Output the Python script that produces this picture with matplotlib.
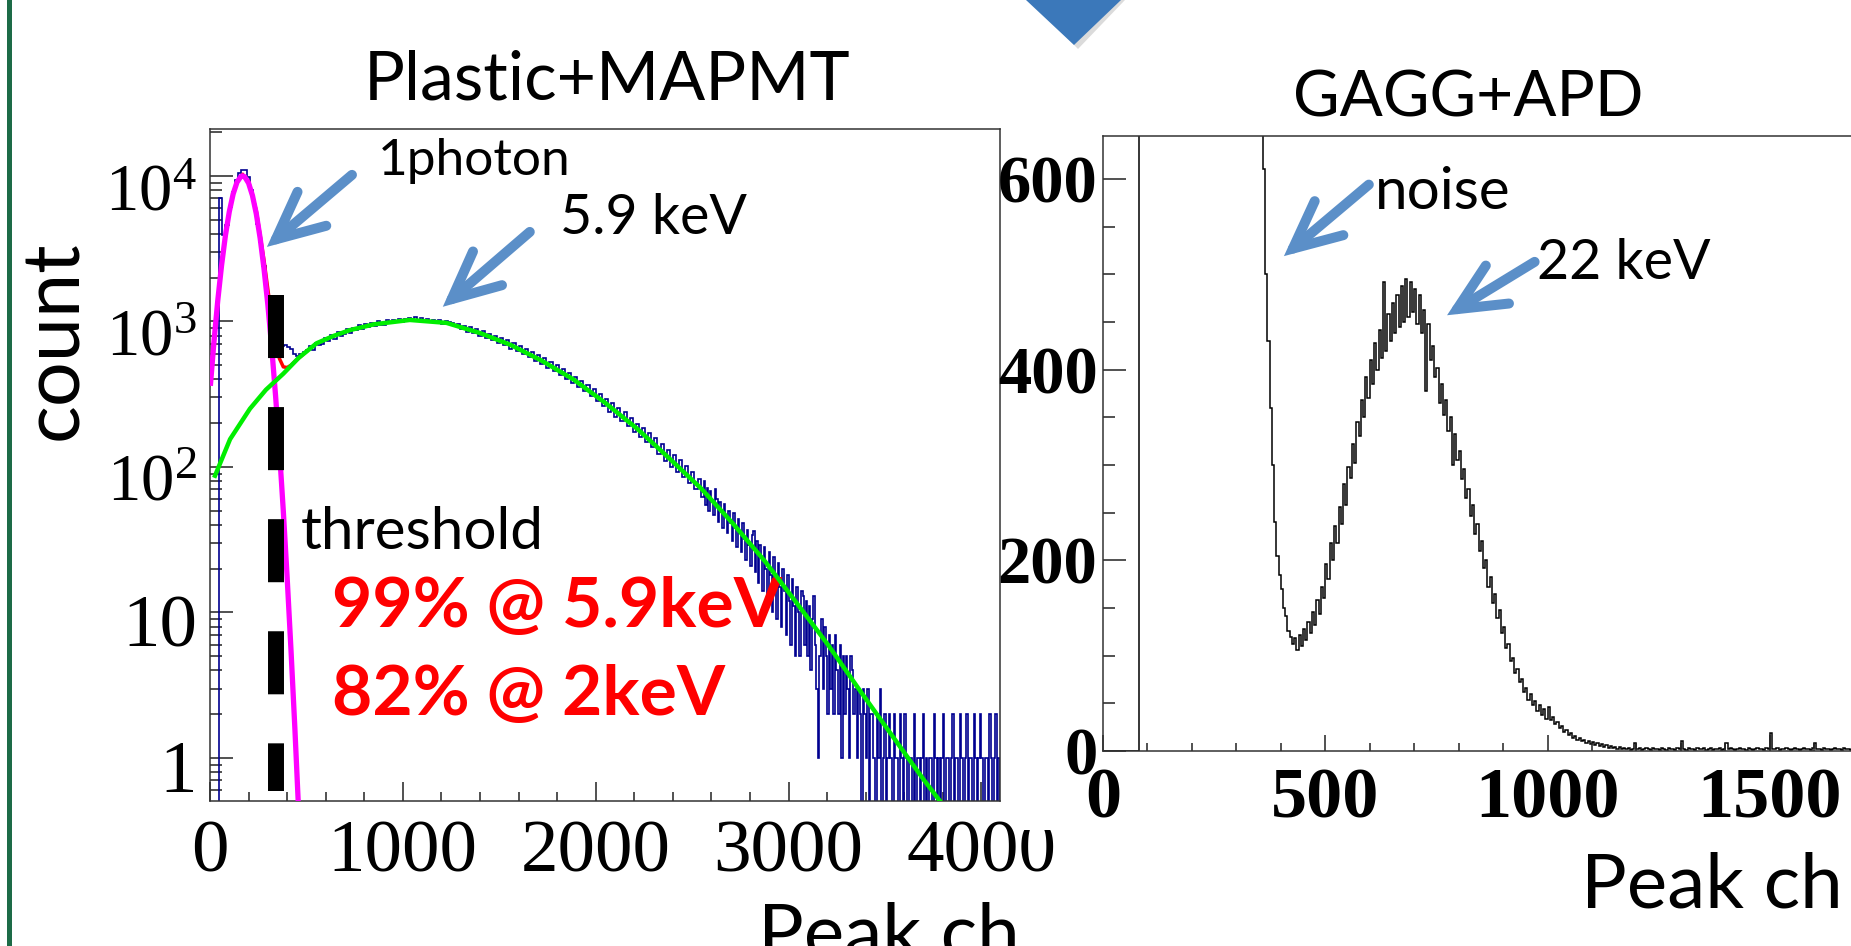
import matplotlib
matplotlib.use("Agg")
import matplotlib.pyplot as plt
import numpy as np
from matplotlib.ticker import LogLocator, NullFormatter, MultipleLocator
from matplotlib.patches import Rectangle, Polygon
from matplotlib.transforms import offset_copy

plt.rcParams['font.family'] = ['Lato', 'DejaVu Sans']
plt.rcParams['mathtext.fontset'] = 'custom'
plt.rcParams['mathtext.rm'] = 'Liberation Serif'
plt.rcParams['lines.scale_dashes'] = False

# ---------------------
# Data: Plastic+MAPMT
# 16 ch bins for 0..2560, 8 ch bins for 2560..4096
# ---------------------
plastic_counts_low = [
    0, 0, 0, 7000, 3900, 4600, 6100, 7800, 9300, 10400, 11000, 10900, 9800, 8000, 6300, 4700,
    3500, 2400, 1550, 1100, 860, 740, 700, 680, 690, 670, 650, 600, 580, 595, 620, 640,
    680, 640, 715, 690, 700, 770, 735, 805, 760, 840, 800, 815, 880, 835, 905, 870,
    940, 890, 960, 915, 975, 935, 1000, 950, 945, 1015, 970, 1030, 985, 1035, 990, 1045,
    1050, 1000, 1065, 1020, 1060, 985, 1045, 1010, 1030, 975, 1020, 955, 1000, 990, 970, 930,
    965, 880, 935, 850, 910, 830, 885, 800, 855, 770, 825, 745, 795, 715, 765, 690,
    740, 650, 712, 625, 680, 595, 648, 565, 616, 535, 585, 508, 556, 482, 528, 458,
    500, 428, 472, 402, 445, 378, 418, 354, 392, 332, 368, 308, 342, 286, 316, 264,
    295, 240, 275, 222, 256, 206, 238, 190, 218, 174, 198, 160, 184, 148, 170, 136,
    158, 122, 144, 110, 130, 100, 120, 92, 111, 85, 101, 77, 92, 70, 83, 62,
]
plastic_counts_tail = [
    80, 55, 72, 50, 68, 58, 47, 70, 60, 42, 57, 49, 38, 56, 46, 35,
    50, 41, 31, 48, 38, 28, 44, 35, 26, 41, 32, 23, 37, 29, 21, 34,
    36, 19, 31, 16, 29, 24, 14, 28, 20, 12, 26, 18, 10, 24, 17, 9,
    22, 15, 8, 20, 14, 7, 18, 12, 6, 17, 11, 5, 15, 10, 5, 14,
    13, 6, 12, 5, 11, 4, 9, 13, 6, 3, 1, 5, 9, 3, 8, 5,
    2, 7, 3, 6, 2, 7, 4, 2, 6, 1, 5, 2, 5, 3, 1, 5,
    4, 2, 3, 1, 3, 2, 0, 3, 2, 1, 3, 0, 2, 2, 1, 0,
    2, 1, 3, 0, 1, 2, 0, 1, 2, 1, 0, 2, 1, 1, 0, 2,
    1, 0, 2, 1, 0, 1, 1, 0, 2, 0, 1, 1, 0, 1, 2, 0,
    1, 0, 1, 1, 0, 2, 1, 0, 1, 0, 1, 2, 0, 1, 1, 0,
    1, 2, 0, 1, 1, 0, 2, 1, 0, 1, 2, 0, 1, 1, 0, 2,
    1, 0, 1, 2, 1, 0, 1, 1, 0, 2, 1, 0, 1, 2, 0, 1,
]

# 1 photon fit (magenta)
photon_fit_x = [3, 20, 40, 60, 80, 100, 120, 140, 160, 169, 180, 200, 220, 240, 260,
                280, 300, 320, 340, 360, 380, 400, 420, 440, 458]
photon_fit_y = [376, 711, 1380, 2430, 3900, 5670, 7510, 9050, 9900, 10000, 9860, 8920, 7340, 5490, 3730,
                2300, 1300, 662, 308, 130, 50, 17.4, 5.5, 1.6, 0.48]

# 5.9 keV fit (green)
xray_fit_x = [26, 104, 207, 290, 380, 460, 553, 640, 725, 850, 1036, 1226, 1400, 1556, 1720,
              1886, 2050, 2217, 2380, 2547, 2710, 2878, 3040, 3208, 3370, 3539, 3700, 3798]
xray_fit_y = [87, 155, 251, 339, 437, 562, 708, 794, 871, 955, 1023, 977, 832, 692, 537,
              398, 275, 182, 115, 71, 41, 22.4, 11.7, 5.9, 2.9, 1.41, 0.71, 0.48]

# total fit (red)
total_fit_x = [170, 200, 240, 280, 300, 320, 340, 360, 380, 400, 420, 450, 500]
total_fit_y = [10200, 9160, 5780, 2635, 1660, 1047, 718, 555, 487, 482, 500, 545, 620]

threshold_ch = 342
log_ticks = [1, 10, 100, 1000, 10000]
log_labels = ['1', '10', r'$\mathregular{10^{2}}$', r'$\mathregular{10^{3}}$', r'$\mathregular{10^{4}}$']

# ---------------------
# Data: GAGG+APD
# 10 ch bins for 0..360, 5 ch bins for 360..1700
# ---------------------
gagg_counts_low = [
    0, 0, 0, 0, 0, 0, 0, 0,
    12000, 11000, 9800, 9000, 8200, 7600, 7000, 6400, 5900, 5400, 5000, 4600, 4200, 3900,
    3600, 3300, 3000, 2750, 2500, 2300, 2100, 1900, 1700, 1500, 1300, 1100, 950, 800,
]
gagg_counts_fine = [
    610, 500, 430, 360, 300, 240, 205, 185, 170, 150, 142, 126, 120, 112, 118, 106, 122, 110, 128, 116,
    135, 124, 146, 132, 158, 144, 172, 160, 196, 180, 218, 200, 236, 218, 256, 238, 280, 258, 298, 286,
    322, 302, 345, 330, 368, 350, 392, 370, 410, 385, 428, 400, 442, 412, 492, 420, 458, 430, 470, 438,
    478, 445, 488, 450, 495, 455, 492, 460, 485, 448, 478, 438, 462, 378, 448, 410, 425, 392, 402, 365,
    385, 352, 368, 336, 350, 300, 332, 305, 315, 285, 296, 265, 275, 246, 258, 228, 238, 210, 220, 192,
    200, 172, 182, 155, 165, 140, 148, 124, 130, 108, 112, 94, 98, 82, 86, 72, 75, 62, 66, 54,
    60, 48, 52, 42, 48, 38, 44, 34, 46, 32, 36, 28, 30, 24, 26, 20, 22, 17, 19, 14,
    16, 12, 14, 10, 12, 8, 10, 7, 9, 6, 8, 5, 7, 4, 6, 3, 5, 3, 4, 2,
    4, 2, 3, 2, 3, 1, 2, 8, 2, 3, 1, 2, 3, 2, 1, 3, 2, 2, 1, 3,
    2, 1, 3, 2, 2, 1, 3, 2, 10, 2, 1, 3, 2, 2, 1, 3, 2, 2, 3, 1,
    2, 3, 1, 2, 2, 3, 1, 2, 8, 2, 3, 2, 1, 2, 3, 2, 2, 1, 3, 2,
    1, 2, 3, 2, 2, 1, 3, 2, 19, 2, 2, 3, 1, 2, 2, 3, 2, 1, 2, 3,
    2, 1, 2, 3, 2, 2, 1, 3, 8, 2, 2, 1, 3, 2, 2, 1, 2, 3, 2, 2,
    1, 3, 2, 2, 1, 2, 3, 2,
]

plastic_counts = plastic_counts_low + plastic_counts_tail
plastic_edges = np.concatenate([np.arange(0, 2560, 16), np.arange(2560, 4097, 8)])
gagg_counts = gagg_counts_low + gagg_counts_fine
gagg_edges = np.concatenate([np.arange(0, 360, 10), np.arange(360, 1701, 5)])

# ---------------------
# Figure
# ---------------------
W, H = 1851, 946
fig = plt.figure(figsize=(W / 100, H / 100), dpi=100)


def fx(x):
    return x / W


def fy(y):
    return 1 - y / H


def box(left, top, right, bottom):
    return [fx(left), fy(bottom), (right - left) / W, (bottom - top) / H]


axL = fig.add_axes(box(210, 129, 1000, 801))
axR = fig.add_axes(box(1103, 136, 1992, 751))
axR.set_zorder(3)

serif = 'Liberation Serif'
arrow_c = '#5b8fc8'

# ---------------------
# Left panel
# ---------------------
axL.stairs(plastic_counts, plastic_edges, color='#000090', lw=1.2, zorder=2)
axL.plot(total_fit_x, total_fit_y, color='#ff0000', lw=2.5, zorder=3)
axL.plot(photon_fit_x, photon_fit_y, color='#ff00ff', lw=3.8, zorder=4)
axL.plot(xray_fit_x, xray_fit_y, color='#00ee00', lw=3.2, zorder=4)
axL.plot([threshold_ch, threshold_ch], [1510, 0.59], color='black', lw=11.5,
         dashes=(45.4, 35.3), dash_capstyle='butt', zorder=5)

axL.set_xlim(0, 4096)
axL.set_yscale('log')
axL.set_ylim(0.506, 21000)
axL.set_xticks([0, 1000, 2000, 3000, 4000], ['0', '1000', '2000', '3000', '4000'],
               fontfamily=serif, fontsize=54)
axL.xaxis.set_minor_locator(MultipleLocator(200))
axL.set_yticks(log_ticks)
axL.yaxis.set_major_formatter(NullFormatter())
axL.yaxis.set_minor_locator(LogLocator(base=10, subs=np.arange(2, 10), numticks=20))
axL.yaxis.set_minor_formatter(NullFormatter())
axL.tick_params(axis='x', which='major', length=13.7, pad=14)
axL.tick_params(axis='x', which='minor', length=6.5)
axL.tick_params(axis='y', which='major', length=16.6)
axL.tick_params(axis='y', which='minor', length=8.6)

# y labels: baseline below the tick, right aligned next to the frame (ROOT style)
ylab_trans = offset_copy(axL.get_yaxis_transform(), fig=fig, x=-13, y=-34, units='dots')
for v, lab in zip(log_ticks, log_labels):
    size = 54 if v < 100 else 48
    axL.text(0, v, lab, transform=ylab_trans, ha='right', va='baseline',
             fontfamily=serif, fontsize=size)

axL.text(870, 10160, '1photon', fontsize=37, va='baseline')
axL.text(1813, 3960, '5.9 keV', fontsize=40, va='baseline')
axL.text(471, 27.3, 'threshold', fontsize=42, va='baseline')
axL.text(632, 7.9, '99% @ 5.9keV', color='#ff0000', fontweight='bold', fontsize=50, va='baseline')
axL.text(632, 1.98, '82% @ 2keV', color='#ff0000', fontweight='bold', fontsize=50, va='baseline')

arrow_props = dict(arrowstyle='->,head_length=1.7,head_width=0.8', lw=7.2, color=arrow_c,
                   shrinkA=0, shrinkB=0, mutation_scale=20, capstyle='round', joinstyle='miter')
axL.annotate('', xy=(295, 3250), xytext=(736, 10160), arrowprops=arrow_props, zorder=6)
axL.annotate('', xy=(1207, 1260), xytext=(1658, 4120), arrowprops=arrow_props, zorder=6)

# ---------------------
# Right panel
# ---------------------
axR.stairs(gagg_counts, gagg_edges, color='black', lw=1.1)
axR.set_xlim(0, 2000)
axR.set_ylim(0, 645)
axR.set_xticks([0, 500, 1000, 1500], ['0', '500', '1000', '1500'],
               fontfamily=serif, fontsize=52, fontweight='bold')
axR.xaxis.set_minor_locator(MultipleLocator(100))
axR.set_yticks([0, 200, 400, 600], ['0', '200', '400', '600'],
               fontfamily=serif, fontsize=48, fontweight='bold')
axR.yaxis.set_minor_locator(MultipleLocator(50))
axR.tick_params(axis='x', which='major', length=11.5, pad=12)
axR.tick_params(axis='x', which='minor', length=5.8)
axR.tick_params(axis='y', which='major', length=16.6, pad=4)
axR.tick_params(axis='y', which='minor', length=8.3)

axR.text(612, 568, 'noise', fontsize=42, va='baseline')
axR.text(976, 495, '22 keV', fontsize=40, va='baseline')
axR.annotate('', xy=(407, 519), xytext=(598, 594), arrowprops=arrow_props)
axR.annotate('', xy=(774, 457), xytext=(971, 513), arrowprops=arrow_props)

for ax in (axL, axR):
    ax.tick_params(which='both', direction='in', top=False, right=False, width=1.1, color='#222222')
    for sp in ax.spines.values():
        sp.set_linewidth(1.1)
        sp.set_color('#333333')

# ---------------------
# Slide decorations and labels
# ---------------------
fig.text(fx(607), fy(100), 'Plastic+MAPMT', ha='center', va='baseline', fontsize=49)
fig.text(fx(1468), fy(116), 'GAGG+APD', ha='center', va='baseline', fontsize=46)
fig.text(fx(55), fy(340), 'count', rotation=90, ha='center', va='center', fontsize=57)
fig.text(fx(1020), fy(958), 'Peak ch', ha='right', va='baseline', fontsize=55)
fig.text(fx(1843), fy(907), 'Peak ch', ha='right', va='baseline', fontsize=55)

fig.patches.append(Rectangle((fx(1015), fy(830)), fx(87), 1, transform=fig.transFigure,
                             facecolor='white', edgecolor='none', zorder=1))
fig.patches.append(Rectangle((fx(7), 0), fx(5), 1, transform=fig.transFigure,
                             facecolor='#1d6b47', edgecolor='none', zorder=1))
fig.patches.append(Polygon([(fx(1030), fy(0)), (fx(1125), fy(0)), (fx(1078), fy(49))],
                           transform=fig.transFigure, facecolor='#999999', alpha=0.35,
                           edgecolor='none', zorder=1))
fig.patches.append(Polygon([(fx(1026), fy(0)), (fx(1121), fy(0)), (fx(1074), fy(45))],
                           transform=fig.transFigure, facecolor='#3b78ba', edgecolor='none', zorder=1))

fig.savefig('out.png', dpi=100)
